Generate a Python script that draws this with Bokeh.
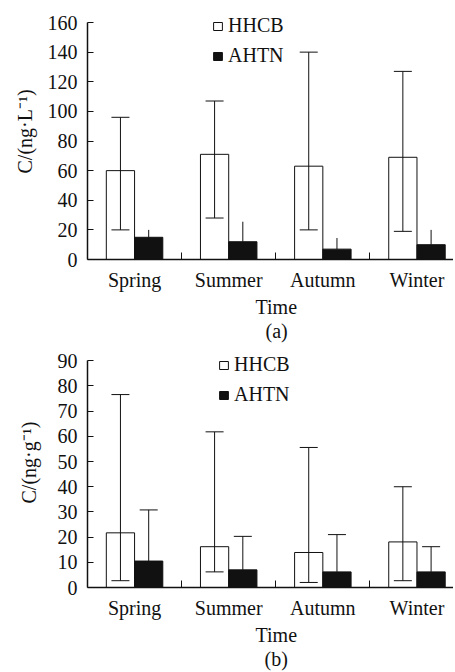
from bokeh.plotting import figure
from bokeh.models import (Range1d, FixedTicker, Whisker, TeeHead, ColumnDataSource,
                          Legend, LegendItem, Title)
from bokeh.layouts import column
from bokeh.embed import file_html
from bokeh.resources import INLINE

seasons = ["Spring", "Summer", "Autumn", "Winter"]

# panel (a): water, ng/L
a_hhcb = [60, 71, 63, 69]
a_hhcb_low = [20, 28, 20, 19]
a_hhcb_high = [96, 107, 140, 127]
a_ahtn = [15, 12, 7, 10]
a_ahtn_high = [20, 25.5, 14.5, 20]
a_yticks = [0, 20, 40, 60, 80, 100, 120, 140, 160]

# panel (b): sediment, ng/g
b_hhcb = [21.7, 16.2, 13.9, 18.1]
b_hhcb_low = [2.7, 6.2, 2.0, 2.7]
b_hhcb_high = [76.6, 61.8, 55.6, 40]
b_ahtn = [10.5, 7.0, 6.2, 6.2]
b_ahtn_high = [30.8, 20.3, 21, 16.2]
b_yticks = [0, 10, 20, 30, 40, 50, 60, 70, 80, 90]

INK = "#111111"
FONT = "Liberation Serif"
FS = "20px"


def panel(hhcb, hlo, hhi, ahtn, ahi, yticks, ylabel, tag, height, btop, bbot,
          ytop, ahtn_caps, leg_x, leg_y, ylab_off, ylab_standoff, tag_off):
    cats = [i + 0.5 for i in range(len(seasons))]
    xh = [c - 0.15 for c in cats]
    xa = [c + 0.15 for c in cats]
    p = figure(width=453, height=height, output_backend="svg", toolbar_location=None,
               x_range=Range1d(0, 3.888), y_range=Range1d(yticks[0], ytop),
               min_border_left=86, min_border_right=0, min_border_top=btop,
               min_border_bottom=bbot)
    p.outline_line_color = None
    p.grid.visible = False
    p.background_fill_color = "white"

    sh = ColumnDataSource(dict(x=xh, top=hhcb, lo=hlo, hi=hhi))
    sa = ColumnDataSource(dict(x=xa, top=ahtn, lo=ahtn, hi=ahi))
    rh = p.vbar(x="x", top="top", bottom=0, width=0.3, source=sh,
                fill_color="white", line_color=INK, line_width=1)
    ra = p.vbar(x="x", top="top", bottom=0, width=0.3, source=sa,
                fill_color=INK, line_color=INK, line_width=1)

    wh = Whisker(source=sh, base="x", lower="lo", upper="hi", dimension="height",
                 line_color=INK, line_width=1, level="annotation",
                 upper_head=TeeHead(size=18, line_color=INK, line_width=1),
                 lower_head=TeeHead(size=18, line_color=INK, line_width=1))
    p.add_layout(wh)
    if ahtn_caps:
        wa = Whisker(source=sa, base="x", lower="lo", upper="hi", dimension="height",
                     line_color=INK, line_width=1, level="annotation",
                     upper_head=TeeHead(size=18, line_color=INK, line_width=1),
                     lower_head=None)
        p.add_layout(wa)
    else:
        p.segment(x0="x", y0="top", x1="x", y1="hi", source=sa, line_color=INK,
                  line_width=1)

    # x axis
    xax = p.xaxis[0]
    xax.ticker = FixedTicker(ticks=cats, minor_ticks=[1, 2, 3])
    xax.major_label_overrides = {c: s for c, s in zip(cats, seasons)}
    xax.major_tick_in = 0
    xax.major_tick_out = 0
    xax.minor_tick_in = 7
    xax.minor_tick_out = 0
    xax.minor_tick_line_color = INK
    xax.axis_line_color = INK
    xax.axis_line_width = 1.5
    xax.major_label_text_font = FONT
    xax.major_label_text_font_size = FS
    xax.major_label_text_color = INK
    xax.major_label_standoff = 9

    yax = p.yaxis[0]
    yax.ticker = FixedTicker(ticks=yticks, minor_ticks=[])
    yax.bounds = (yticks[0], yticks[-1])
    yax.major_tick_in = 6
    yax.major_tick_out = 0
    yax.major_tick_line_color = INK
    yax.axis_line_color = INK
    yax.axis_line_width = 1.5
    yax.major_label_text_font = FONT
    yax.major_label_text_font_size = FS
    yax.major_label_text_color = INK
    yax.major_label_standoff = 10

    leg = Legend(items=[LegendItem(label="HHCB", renderers=[rh]),
                        LegendItem(label="AHTN", renderers=[ra])],
                 location=(leg_x, leg_y), glyph_width=11, glyph_height=10,
                 label_standoff=5, spacing=7, padding=0, margin=0,
                 border_line_color=None, background_fill_alpha=0,
                 label_text_font=FONT, label_text_font_size=FS,
                 label_text_color=INK, label_height=20)
    p.add_layout(leg)

    tstyle = dict(text_font=FONT, text_font_size=FS, text_font_style="normal",
                  text_color=INK)
    p.add_layout(Title(text=ylabel, align="left", offset=ylab_off,
                       standoff=ylab_standoff, **tstyle), "left")
    p.add_layout(Title(text="Time", align="left", offset=168, standoff=0,
                       **tstyle), "below")
    p.add_layout(Title(text=tag, align="left", offset=tag_off, standoff=0,
                       **tstyle), "below")
    return p


p1 = panel(a_hhcb, a_hhcb_low, a_hhcb_high, a_ahtn, a_ahtn_high, a_yticks,
           "C/(ng\u00b7L\u207b\u00b9)", "(a)", 343, 13, 84, 166.08, False,
           125, 192, 86, 18, 178)
p2 = panel(b_hhcb, b_hhcb_low, b_hhcb_high, b_ahtn, b_ahtn_high, b_yticks,
           "C/(ng\u00b7g\u207b\u00b9)", "(b)", 328, 9, 84, 93.3, True,
           131, 181, 84, 30, 177)

layout = column(p1, p2, spacing=0)
open("out.html", "w").write(file_html(layout, INLINE))
